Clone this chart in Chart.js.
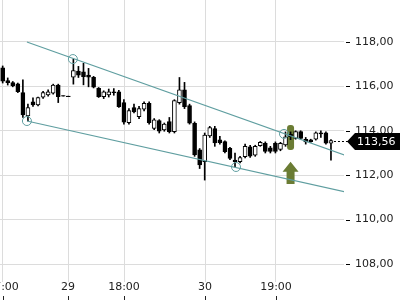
<!DOCTYPE html>
<html lang="de">
<head>
<meta charset="UTF-8" />
<title>Kursverlauf</title>
<style>
  html, body { margin: 0; padding: 0; background: #fff; }
  #chart { display: block; }
</style>
</head>
<body>
<canvas id="chart" width="400" height="300"></canvas>
<script src="https://cdn.jsdelivr.net/npm/chart.js"></script>
<script>
// candles (index = candle number from the left)
const candleOpen = [
  116.83, 116.26, 116.17, 116.11, 115.72, 114.67, 115.30, 115.16, 115.51, 115.62,
  115.69, 116.06, 115.58, 115.56, 116.41, 116.69, 116.66, 116.51, 116.41, 115.91,
  115.54, 115.61, 115.76, 115.76, 115.27, 114.37, 115.05, 114.64, 114.97, 115.24,
  114.11, 114.46, 114.04, 114.42, 113.96, 115.27, 115.84, 115.13, 114.34, 113.14,
  112.61, 113.77, 114.10, 113.59, 113.51, 113.21, 112.68, 112.61, 112.83, 113.28,
  112.90, 113.33, 113.44, 113.23, 113.44, 113.16, 113.36, 113.84, 113.66, 113.96,
  113.62, 113.59, 113.62, 113.91, 113.91, 113.44
];
const candleHigh = [
  116.92, 116.38, 116.22, 116.15, 116.29, 115.20, 115.48, 115.52, 115.78, 115.84,
  116.10, 116.10, 115.58, 115.56, 117.23, 116.90, 117.04, 116.81, 116.45, 115.95,
  115.80, 115.88, 115.90, 115.82, 115.40, 115.00, 115.20, 115.10, 115.30, 115.30,
  114.55, 114.50, 114.35, 114.60, 115.40, 116.40, 116.18, 115.20, 114.40, 113.20,
  113.90, 114.20, 114.20, 113.75, 113.55, 113.25, 113.00, 112.85, 113.40, 113.35,
  113.35, 113.52, 113.50, 113.30, 113.50, 113.48, 113.95, 113.95, 114.00, 114.00,
  113.70, 113.62, 113.95, 114.00, 113.95, 113.60
];
const candleLow = [
  116.15, 116.06, 115.98, 115.72, 114.60, 114.44, 115.10, 115.12, 115.46, 115.56,
  115.65, 115.27, 115.56, 115.54, 116.10, 116.40, 116.07, 115.98, 115.93, 115.50,
  115.45, 115.52, 115.60, 115.05, 114.30, 114.30, 114.80, 114.55, 114.90, 114.30,
  114.05, 113.90, 113.98, 113.90, 113.90, 115.20, 115.00, 114.30, 112.85, 112.30,
  111.78, 113.70, 113.30, 113.40, 113.00, 112.70, 112.37, 112.55, 112.78, 112.80,
  112.85, 113.30, 113.00, 113.00, 113.00, 113.10, 113.30, 113.60, 113.62, 113.62,
  113.40, 113.48, 113.58, 113.70, 113.40, 112.68
];
const candleClose = [
  116.24, 116.17, 116.02, 115.76, 114.71, 115.04, 115.16, 115.49, 115.72, 115.76,
  116.06, 115.54, 115.56, 115.54, 116.71, 116.51, 116.44, 116.41, 115.96, 115.54,
  115.76, 115.76, 115.72, 115.09, 114.39, 114.91, 114.85, 115.00, 115.24, 114.37,
  114.49, 113.98, 114.30, 113.96, 115.36, 115.84, 115.09, 114.34, 112.91, 112.46,
  113.81, 114.15, 113.45, 113.46, 113.06, 112.76, 112.61, 112.79, 113.30, 112.86,
  113.30, 113.48, 113.07, 113.07, 113.07, 113.44, 113.73, 113.73, 113.96, 113.66,
  113.50, 113.51, 113.91, 113.86, 113.44, 113.56
];

// time axis labels and where they sit (in candle numbers)
const xTickPos = [0, 13, 24.1, 40.15, 54.1];
const xTickLabels = ['17:00', '29', '18:00', '30', '19:00'];

// trend channel
const upperTrend = [{ x: 4.8, y: 118.0 }, { x: 67.8, y: 112.9 }];
const lowerTrend = [{ x: 4.8, y: 114.44 }, { x: 67.8, y: 111.25 }];
const touchX = [4.8, 13.9, 46.2, 55.7];
const touchY = [114.44, 117.23, 112.37, 113.86];

const lastPrice = 113.56;
const signalIndex = 57;
const signalBar = [113.14, 114.26];
const signalArrow = [111.6, 112.6];

const teal = '#5f9ea0';
const green = '#6b7c34';
const gridColor = '#dcdcdc';

const wicks = [];
const bodies = [];
const bodyColors = [];
for (let i = 0; i < candleOpen.length; i++) {
  wicks.push({ x: i, y: [candleLow[i], candleHigh[i]] });
  bodies.push({ x: i, y: [candleOpen[i], candleClose[i]] });
  bodyColors.push(candleClose[i] > candleOpen[i] ? '#fff' : '#000');
}

function fmt(v) {
  return v.toFixed(2).replace('.', ',');
}

const extras = {
  id: 'extras',
  beforeDatasetsDraw(chart) {
    const { ctx, scales: { x, y } } = chart;
    const cx = x.getPixelForValue(signalIndex);
    ctx.save();
    ctx.fillStyle = green;
    // highlight bar
    const top = y.getPixelForValue(signalBar[1]);
    const bot = y.getPixelForValue(signalBar[0]);
    ctx.beginPath();
    ctx.roundRect(cx - 3.5, top, 7, bot - top, 3);
    ctx.fill();
    // arrow pointing up
    const tip = y.getPixelForValue(signalArrow[1]);
    const base = y.getPixelForValue(signalArrow[0]);
    ctx.beginPath();
    ctx.moveTo(cx, tip);
    ctx.lineTo(cx + 8, tip + 10);
    ctx.lineTo(cx + 4, tip + 10);
    ctx.lineTo(cx + 4, base);
    ctx.lineTo(cx - 4, base);
    ctx.lineTo(cx - 4, tip + 10);
    ctx.lineTo(cx - 8, tip + 10);
    ctx.closePath();
    ctx.fill();
    ctx.restore();
  },
  afterDraw(chart) {
    const { ctx, chartArea, scales: { x, y } } = chart;
    ctx.save();

    // x labels with small tick marks under them
    ctx.font = '11px "DejaVu Sans"';
    ctx.fillStyle = '#222';
    ctx.textAlign = 'center';
    ctx.textBaseline = 'middle';
    for (let i = 0; i < xTickPos.length; i++) {
      const px = Math.round(x.getPixelForValue(xTickPos[i]));
      ctx.fillText(xTickLabels[i], px, 287);
      ctx.fillRect(px, 296, 1, 4);
    }

    // short dashes in front of the price labels
    ctx.fillStyle = '#000';
    y.ticks.forEach(function (t) {
      const py = Math.round(y.getPixelForValue(t.value));
      ctx.fillRect(chartArea.right + 2, py, 4, 1);
    });

    // last price tag
    const py = Math.round(y.getPixelForValue(lastPrice)) + 0.5;
    const lastX = x.getPixelForValue(candleClose.length - 1);
    ctx.strokeStyle = '#000';
    ctx.lineWidth = 1;
    ctx.setLineDash([2, 2]);
    ctx.beginPath();
    ctx.moveTo(lastX + 3, py);
    ctx.lineTo(348, py);
    ctx.stroke();
    ctx.setLineDash([]);

    ctx.beginPath();
    ctx.moveTo(347, py);
    ctx.lineTo(355, py - 8.5);
    ctx.lineTo(400, py - 8.5);
    ctx.lineTo(400, py + 8.5);
    ctx.lineTo(355, py + 8.5);
    ctx.closePath();
    ctx.fill();
    ctx.fillStyle = '#fff';
    ctx.textAlign = 'left';
    ctx.fillText(fmt(lastPrice), 357, py + 0.5);
    ctx.restore();
  }
};

Chart.defaults.font.family = '"DejaVu Sans"';
Chart.defaults.font.size = 11;

const config = {
  type: 'bar',
  data: {
    datasets: [
      {
        label: 'Docht',
        data: wicks,
        backgroundColor: '#000',
        barThickness: 1,
        order: 4
      },
      {
        label: 'Kerze',
        data: bodies,
        backgroundColor: bodyColors,
        borderColor: '#000',
        borderWidth: 1,
        barThickness: 4,
        order: 3
      },
      {
        type: 'line',
        label: 'Oberer Trend',
        data: upperTrend,
        borderColor: teal,
        borderWidth: 1.2,
        pointRadius: 0,
        order: 2
      },
      {
        type: 'line',
        label: 'Unterer Trend',
        data: lowerTrend,
        borderColor: teal,
        borderWidth: 1.2,
        pointRadius: 0,
        order: 2
      },
      {
        type: 'line',
        label: 'Berührung',
        data: touchX.map((v, i) => ({ x: v, y: touchY[i] })),
        showLine: false,
        pointRadius: 4.5,
        pointBorderWidth: 1,
        pointBorderColor: teal,
        pointBackgroundColor: 'rgba(0,0,0,0)',
        order: 1
      }
    ]
  },
  options: {
    responsive: false,
    animation: false,
    events: [],
    layout: { padding: 0, autoPadding: false },
    datasets: {
      bar: { grouped: false, borderSkipped: false }
    },
    plugins: {
      legend: { display: false },
      tooltip: { enabled: false }
    },
    scales: {
      x: {
        type: 'linear',
        min: -0.53,
        max: 67.58,
        offset: false,
        border: { display: false },
        grid: { color: gridColor, drawTicks: false, offset: false },
        ticks: { display: false },
        afterBuildTicks: function (scale) {
          scale.ticks = xTickPos.map(v => ({ value: v }));
        },
        afterFit: function (scale) {
          scale.height = 18;
          scale.paddingLeft = 0;
          scale.paddingRight = 0;
        }
      },
      y: {
        position: 'right',
        min: 107.19,
        max: 119.89,
        border: { display: false },
        grid: { color: gridColor, drawTicks: false },
        ticks: {
          stepSize: 2,
          includeBounds: false,
          padding: 11,
          color: '#222',
          callback: v => fmt(v)
        },
        afterFit: function (scale) {
          scale.width = 56;
          scale.paddingTop = 0;
          scale.paddingBottom = 0;
        }
      }
    }
  },
  plugins: [extras]
};

const myChart = new Chart(document.getElementById('chart'), config);
</script>
</body>
</html>
